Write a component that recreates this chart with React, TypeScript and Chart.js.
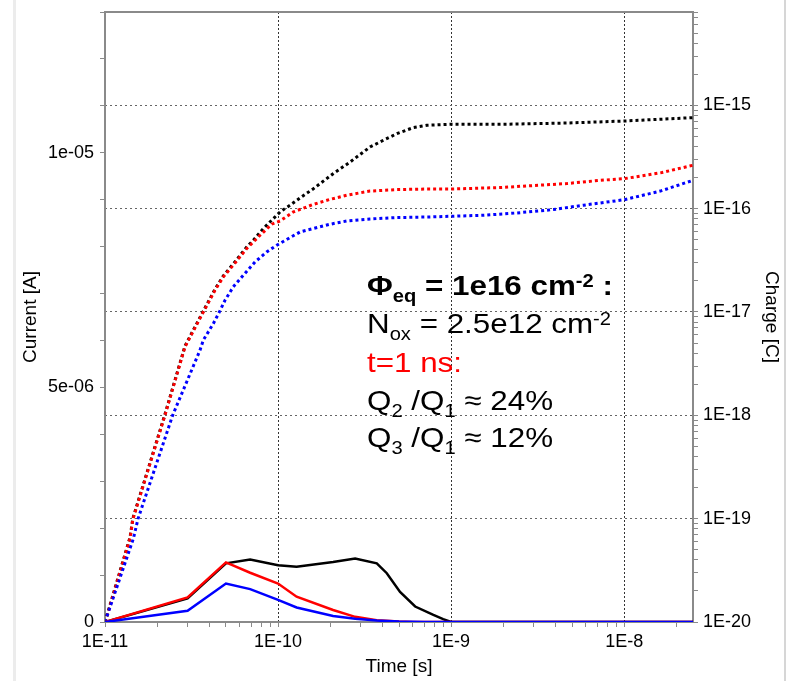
import React, { useEffect, useRef } from 'react';
import { Chart, registerables } from 'chart.js';

Chart.register(...registerables);

// ---------------- Data ----------------
// Current (left axis, linear) – solid lines
const tCurBlack = [1e-11, 3e-11, 5e-11, 6.9e-11, 1e-10, 1.28e-10, 2.08e-10, 2.79e-10, 3.72e-10, 4.25e-10, 5.07e-10, 6.2e-10, 7.9e-10, 9e-10, 1e-9, 2.5e-8];
const curBlack = [0, 5.04e-7, 1.25e-6, 1.33e-6, 1.21e-6, 1.18e-6, 1.28e-6, 1.355e-6, 1.25e-6, 1.04e-6, 6.4e-7, 3.3e-7, 1.5e-7, 6e-8, 0, 0];

const tCurRed = [1e-11, 3e-11, 5e-11, 6.9e-11, 1e-10, 1.28e-10, 2.08e-10, 2.79e-10, 3.72e-10, 5e-10, 6e-10, 2.5e-8];
const curRed = [0, 5.25e-7, 1.27e-6, 1.05e-6, 8.2e-7, 5.4e-7, 2.55e-7, 1.1e-7, 4e-8, 1e-8, 0, 0];

const tCurBlue = [1e-11, 3e-11, 5e-11, 6.9e-11, 1e-10, 1.28e-10, 2.08e-10, 2.79e-10, 3.72e-10, 5e-10, 7e-10, 2.5e-8];
const curBlue = [0, 2.4e-7, 8.2e-7, 7.0e-7, 4.7e-7, 3.1e-7, 1.3e-7, 7e-8, 3e-8, 1e-8, 0, 0];

// Charge (right axis, logarithmic) – dotted lines
const tChgBlack = [1e-11, 1.04e-11, 1.395e-11, 1.45e-11, 2.22e-11, 2.9e-11, 3.7e-11, 4.32e-11, 4.83e-11, 5.51e-11, 6.59e-11, 7.2e-11, 8.22e-11, 1.027e-10, 1.173e-10, 1.34e-10, 1.6e-10, 2.09e-10, 2.61e-10, 3.4e-10, 4.06e-10, 4.86e-10, 6.05e-10, 7.24e-10, 1e-9, 1.92e-9, 4.67e-9, 1e-8, 2.5e-8];
const chgBlack = [1e-20, 1.25e-20, 6.6e-20, 1.01e-19, 1.02e-18, 4.7e-18, 1.02e-17, 1.66e-17, 2.24e-17, 2.92e-17, 4.25e-17, 4.95e-17, 6.42e-17, 9.29e-17, 1.08e-16, 1.27e-16, 1.56e-16, 2.19e-16, 2.83e-16, 3.95e-16, 4.59e-16, 5.32e-16, 6.09e-16, 6.41e-16, 6.55e-16, 6.55e-16, 6.74e-16, 7.05e-16, 7.6e-16];

const tChgRed = [1e-11, 1.04e-11, 1.395e-11, 1.45e-11, 2.22e-11, 2.9e-11, 3.7e-11, 4.32e-11, 4.83e-11, 5.51e-11, 6.59e-11, 7.87e-11, 9.2e-11, 1.027e-10, 1.226e-10, 1.6e-10, 2e-10, 2.5e-10, 3.4e-10, 4.86e-10, 7.56e-10, 1e-9, 1.92e-9, 4.67e-9, 7.27e-9, 1e-8, 1.62e-8, 2.5e-8];
const chgRed = [1e-20, 1.22e-20, 6.45e-20, 9.9e-20, 1e-18, 4.6e-18, 1e-17, 1.62e-17, 2.19e-17, 2.84e-17, 4.11e-17, 5.53e-17, 7.07e-17, 7.6e-17, 9.29e-17, 1.1e-16, 1.23e-16, 1.35e-16, 1.48e-16, 1.53e-16, 1.55e-16, 1.55e-16, 1.6e-16, 1.75e-16, 1.88e-16, 1.95e-16, 2.22e-16, 2.63e-16];

const tChgBlue = [1e-11, 1.46e-11, 1.55e-11, 2.46e-11, 3.54e-11, 3.7e-11, 4.23e-11, 4.62e-11, 4.94e-11, 5.51e-11, 6.3e-11, 7.36e-11, 8.6e-11, 9.83e-11, 1.173e-10, 1.34e-10, 1.6e-10, 2e-10, 2.5e-10, 3.4e-10, 4.86e-10, 7.56e-10, 1e-9, 1.54e-9, 2.4e-9, 3.9e-9, 5.82e-9, 1e-8, 1.62e-8, 2.5e-8];
const chgBlue = [1e-20, 6.45e-20, 9.9e-20, 1e-18, 4.27e-18, 5.34e-18, 7.74e-18, 1.03e-17, 1.3e-17, 1.75e-17, 2.27e-17, 3.05e-17, 3.81e-17, 4.43e-17, 5.25e-17, 5.95e-17, 6.42e-17, 7.07e-17, 7.6e-17, 7.95e-17, 8.2e-17, 8.31e-17, 8.44e-17, 8.63e-17, 9.09e-17, 9.8e-17, 1.08e-16, 1.22e-16, 1.48e-16, 1.88e-16];

// Axis ranges & tick labels
const X_MIN = 1e-11;
const X_MAX = 2.5e-8;
const I_MIN = 0;
const I_MAX = 1.3e-5;
const I_STEP = 1e-6;
const Q_MIN = 1e-20;
const Q_MAX = 8e-15;

const xLabelValues = [1e-11, 1e-10, 1e-9, 1e-8];
const xLabels = ['1E-11', '1E-10', '1E-9', '1E-8'];
const currentLabelValues = [0, 5e-6, 1e-5];
const currentLabels = ['0', '5e-06', '1e-05'];
const chargeLabelValues = [1e-20, 1e-19, 1e-18, 1e-17, 1e-16, 1e-15];
const chargeLabels = ['1E-20', '1E-19', '1E-18', '1E-17', '1E-16', '1E-15'];

// Annotation text
const annotationLines: { color: string; bold: boolean; parts: [string, 'n' | 'sub' | 'sup'][] }[] = [
  { color: '#000000', bold: true, parts: [['Φ', 'n'], ['eq', 'sub'], [' = 1e16 cm', 'n'], ['-2', 'sup'], [' :', 'n']] },
  { color: '#000000', bold: false, parts: [['N', 'n'], ['ox', 'sub'], [' = 2.5e12 cm', 'n'], ['-2', 'sup']] },
  { color: '#ff0000', bold: false, parts: [['t=1 ns:', 'n']] },
  { color: '#000000', bold: false, parts: [['Q', 'n'], ['2', 'sub'], [' /Q', 'n'], ['1', 'sub'], [' ≈ 24%', 'n']] },
  { color: '#000000', bold: false, parts: [['Q', 'n'], ['3', 'sub'], [' /Q', 'n'], ['1', 'sub'], [' ≈ 12%', 'n']] },
];

// ---------------- Helpers ----------------
const FONT = "'Liberation Sans', Arial, Helvetica, sans-serif";
const AXIS_GRAY = '#8a8a8a';

const pts = (ts: number[], vs: number[]) => ts.map((t, i) => ({ x: t, y: vs[i] }));

const relMatch = (v: number, vals: number[], labels: string[]) => {
  for (let i = 0; i < vals.length; i++) {
    if (Math.abs(v - vals[i]) <= Math.abs(vals[i]) * 1e-6) return labels[i];
  }
  return '';
};
const absMatch = (v: number, vals: number[], labels: string[]) => {
  for (let i = 0; i < vals.length; i++) {
    if (Math.abs(v - vals[i]) <= 1e-10) return labels[i];
  }
  return '';
};
const isDecade = (v: number) => {
  const l = Math.log10(v);
  return Math.abs(l - Math.round(l)) < 1e-6;
};
const logTicks = (min: number, max: number) => {
  const out: { value: number }[] = [];
  const e0 = Math.floor(Math.log10(min));
  const e1 = Math.ceil(Math.log10(max));
  for (let e = e0; e <= e1; e++) {
    for (let s = 1; s <= 9; s++) {
      const v = s * Math.pow(10, e);
      if (v >= min * (1 - 1e-9) && v <= max * (1 + 1e-9)) out.push({ value: v });
    }
  }
  return out;
};

const decorPlugin = {
  id: 'decor',
  beforeDraw(chart: any) {
    const { ctx } = chart;
    ctx.save();
    ctx.fillStyle = '#ffffff';
    ctx.fillRect(0, 0, chart.width, chart.height);
    ctx.fillStyle = '#ececec';
    ctx.fillRect(13, 0, 3, chart.height);
    ctx.fillStyle = '#d6d6d6';
    ctx.fillRect(784, 0, 2, chart.height);
    ctx.restore();
  },
  afterDraw(chart: any) {
    const { ctx, chartArea } = chart;
    ctx.save();
    // top frame line
    ctx.strokeStyle = AXIS_GRAY;
    ctx.lineWidth = 2;
    ctx.beginPath();
    ctx.moveTo(chartArea.left, chartArea.top);
    ctx.lineTo(chartArea.right, chartArea.top);
    ctx.stroke();

    // annotation
    const x0 = 367;
    const baselines = [295, 333, 372, 410, 447];
    ctx.translate(x0, 0);
    ctx.scale(1.12, 1);
    ctx.textBaseline = 'alphabetic';
    ctx.textAlign = 'left';
    annotationLines.forEach((line, li) => {
      let x = 0;
      const w = line.bold ? 'bold ' : '';
      ctx.fillStyle = line.color;
      line.parts.forEach(([txt, kind]) => {
        const size = kind === 'n' ? 28 : 18;
        const dy = kind === 'sub' ? 7 : kind === 'sup' ? -8 : 0;
        ctx.font = `${w}${size}px ${FONT}`;
        ctx.fillText(txt, x, baselines[li] + dy);
        x += ctx.measureText(txt).width;
      });
    });
    ctx.restore();
  },
};

export default function App() {
  const ref = useRef<HTMLCanvasElement>(null);

  useEffect(() => {
    if (!ref.current) return;
    const tickFont = { family: FONT, size: 18 };
    const titleFont = { family: FONT, size: 19 };

    const solid = (label: string, data: any, color: string) => ({
      label, data, yAxisID: 'y', borderColor: color, backgroundColor: color,
      borderWidth: 2.5, pointRadius: 0, fill: false, tension: 0,
    });
    const dotted = (label: string, data: any, color: string) => ({
      label, data, yAxisID: 'y2', borderColor: color, backgroundColor: color,
      borderWidth: 3, borderDash: [3, 3], pointRadius: 0, fill: false, tension: 0,
    });

    const fitY = (w: number) => (s: any) => {
      s.width = w;
      s.paddingTop = 0;
      s.paddingBottom = 0;
    };

    const chart = new Chart(ref.current, {
      type: 'line',
      data: {
        datasets: [
          solid('I3', pts(tCurBlue, curBlue), '#0000ff'),
          solid('I2', pts(tCurRed, curRed), '#ff0000'),
          solid('I1', pts(tCurBlack, curBlack), '#000000'),
          dotted('Q3', pts(tChgBlue, chgBlue), '#0000ff'),
          dotted('Q2', pts(tChgRed, chgRed), '#ff0000'),
          dotted('Q1', pts(tChgBlack, chgBlack), '#000000'),
        ] as any,
      },
      options: {
        animation: false,
        responsive: false,
        devicePixelRatio: 1,
        layout: { padding: { top: 12, left: 0, right: 0, bottom: 0 } },
        plugins: { legend: { display: false }, tooltip: { enabled: false } },
        scales: {
          x: {
            type: 'logarithmic',
            position: 'bottom',
            min: X_MIN,
            max: X_MAX,
            afterBuildTicks: (s: any) => { s.ticks = logTicks(X_MIN, X_MAX); },
            afterFit: (s: any) => { s.height = 59; s.paddingLeft = 0; s.paddingRight = 0; },
            ticks: {
              autoSkip: false, maxRotation: 0, minRotation: 0, padding: 4,
              color: '#000', font: tickFont,
              callback: (v: any) => relMatch(Number(v), xLabelValues, xLabels),
            },
            grid: {
              drawOnChartArea: true, drawTicks: true, tickLength: 5, lineWidth: 1,
              color: (c: any) => (c.tick && isDecade(c.tick.value) && c.index !== 0 ? '#333333' : 'rgba(0,0,0,0)'),
              tickColor: AXIS_GRAY, tickWidth: 1, tickBorderDash: [],
            },
            border: { display: true, color: AXIS_GRAY, width: 2, dash: [2, 2] },
            title: { display: true, text: 'Time [s]', color: '#000', font: titleFont, padding: { top: 0, bottom: 3 } },
          },
          y: {
            type: 'linear',
            position: 'left',
            min: I_MIN,
            max: I_MAX,
            afterBuildTicks: (s: any) => {
              const n = Math.round((I_MAX - I_MIN) / I_STEP);
              s.ticks = Array.from({ length: n + 1 }, (_, k) => ({ value: I_MIN + k * I_STEP }));
            },
            afterFit: fitY(105),
            ticks: {
              autoSkip: false, padding: 6, color: '#000', font: tickFont,
              callback: (v: any) => absMatch(Number(v), currentLabelValues, currentLabels),
            },
            grid: { drawOnChartArea: false, drawTicks: true, tickLength: 5, color: AXIS_GRAY, tickColor: AXIS_GRAY, tickWidth: 1 },
            border: { display: true, color: AXIS_GRAY, width: 2 },
            title: { display: true, text: 'Current [A]', color: '#000', font: titleFont, padding: { top: 19, bottom: 0 } },
          },
          y2: {
            type: 'logarithmic',
            position: 'right',
            min: Q_MIN,
            max: Q_MAX,
            afterBuildTicks: (s: any) => { s.ticks = logTicks(Q_MIN, Q_MAX); },
            afterFit: fitY(99),
            ticks: {
              autoSkip: false, padding: 5, color: '#000', font: tickFont,
              callback: (v: any) => relMatch(Number(v), chargeLabelValues, chargeLabels),
            },
            grid: {
              drawOnChartArea: true, drawTicks: true, tickLength: 5, lineWidth: 1,
              color: (c: any) => (c.tick && isDecade(c.tick.value) && c.index !== 0 ? '#666666' : 'rgba(0,0,0,0)'),
              tickColor: AXIS_GRAY, tickWidth: 1, tickBorderDash: [],
            },
            border: { display: true, color: AXIS_GRAY, width: 2, dash: [2, 3] },
            title: { display: true, text: 'Charge [C]', color: '#000', font: titleFont, padding: { top: 9, bottom: 0 } },
          },
        },
      } as any,
      plugins: [decorPlugin],
    });
    return () => chart.destroy();
  }, []);

  return (
    <div style={{ position: 'fixed', left: 0, top: 0, width: 792, height: 681, background: '#ffffff' }}>
      <canvas ref={ref} width={792} height={681} style={{ display: 'block', width: 792, height: 681 }} />
    </div>
  );
}
